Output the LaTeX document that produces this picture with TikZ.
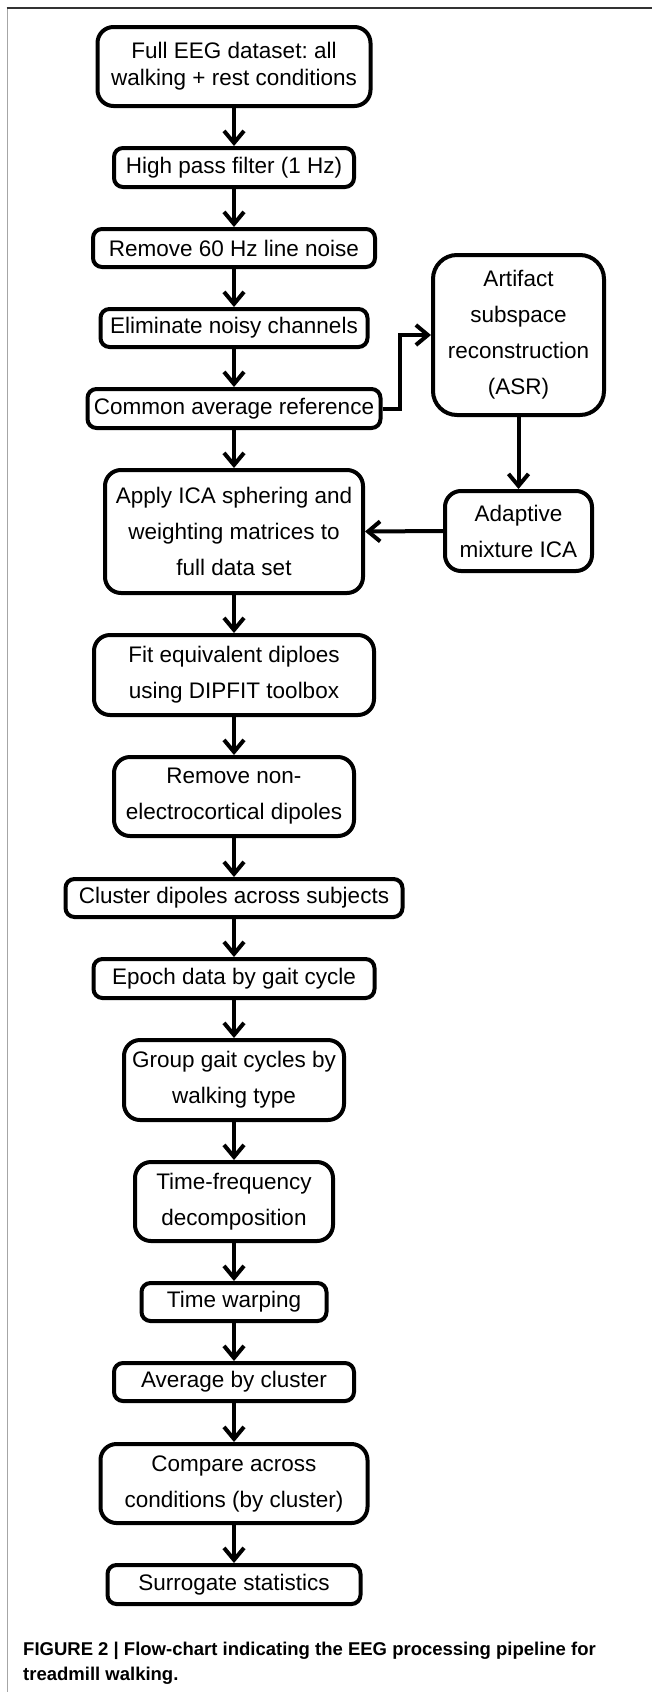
\documentclass[tikz,border=0pt]{standalone}
\usepackage{fontspec}
\setmainfont{Liberation Sans}
\usetikzlibrary{arrows.meta}
\frenchspacing
\begin{document}
\begin{tikzpicture}[x=1pt,y=-1pt,
  box/.style={draw=black, line width=4pt, rounded corners=9pt, inner sep=0pt,
    align=center, font=\fontsize{22.5}{36}\selectfont},
  tall/.style={rounded corners=16pt},
  sz/.style 2 args={minimum width=#1pt, minimum height=#2pt},
  flow/.style={line width=4pt, -{Straight Barb[length=12pt,width=20pt]}},
  frameline/.style={line width=1.6pt}
  ]
\useasboundingbox (0,0) rectangle (652,1692);
% frame
\draw[frameline, gray!70] (7.5,1692) -- (7.5,8);
\draw[frameline, black!80] (6.7,8) -- (652,8);

% main column
\node[box, tall, sz={273}{79}, font=\fontsize{22.5}{27}\selectfont] (b1) at (234,66.5) {Full EEG dataset: all\\walking + rest conditions};
\node[box, sz={240}{39}] (b2) at (234,167.5) {High pass filter (1 Hz)};
\node[box, sz={282}{38}] (b3) at (234,248) {Remove 60 Hz line noise};
\node[box, sz={267}{38}] (b4) at (234,328) {Eliminate noisy channels};
\node[box, sz={293}{39}] (b5) at (234,408.5) {Common average reference};
\node[box, tall, sz={258}{123}] (b6) at (234,531.5) {Apply ICA sphering and\\weighting matrices to\\full data set};
\node[box, tall, sz={280}{80}] (b7) at (234,675) {Fit equivalent diploes\\using DIPFIT toolbox};
\node[box, tall, sz={240}{79}] (b8) at (234,796.5) {Remove non-\\electrocortical dipoles};
\node[box, sz={337}{38}] (b9) at (234,898) {Cluster dipoles across subjects};
\node[box, sz={281}{39}] (b10) at (234,978.5) {Epoch data by gait cycle};
\node[box, tall, sz={220}{80}] (b11) at (234,1080) {Group gait cycles by\\walking type};
\node[box, tall, sz={198}{79}] (b12) at (234,1201.5) {Time-frequency\\decomposition};
\node[box, sz={185}{38}] (b13) at (234,1302) {Time warping};
\node[box, sz={240}{38}] (b14) at (234,1382) {Average by cluster};
\node[box, tall, sz={267}{79}] (b15) at (234,1483.5) {Compare across\\conditions (by cluster)};
\node[box, sz={253}{39}] (b16) at (234,1584.5) {Surrogate statistics};

% side branch
\node[box, rounded corners=24pt, sz={171}{160}] (asr) at (518.5,335) {Artifact\\subspace\\reconstruction\\(ASR)};
\node[box, tall, sz={147}{80}] (amica) at (518.5,531) {Adaptive\\mixture ICA};

% connectors
\foreach \a/\b in {b1/b2,b2/b3,b3/b4,b4/b5,b5/b6,b6/b7,b7/b8,b8/b9,b9/b10,b10/b11,b11/b12,b12/b13,b13/b14,b14/b15,b15/b16}
  \draw[flow] (\a.south) -- (\b.north);
\draw[flow] (b5.east) -- ++(17,0) |- (asr.west);
\draw[flow] (asr.south) -- (amica.north);
\draw[flow] (amica.west) -- (b6.east);

% caption (base anchor = baseline of last line)
\node[anchor=base west, align=left, inner sep=0pt,
  font=\fontsize{18.5}{25}\bfseries\selectfont] (cap) at (23,1680)
  {FIGURE 2 | Flow-chart indicating the EEG processing pipeline for\\treadmill walking.};
\end{tikzpicture}
\end{document}
